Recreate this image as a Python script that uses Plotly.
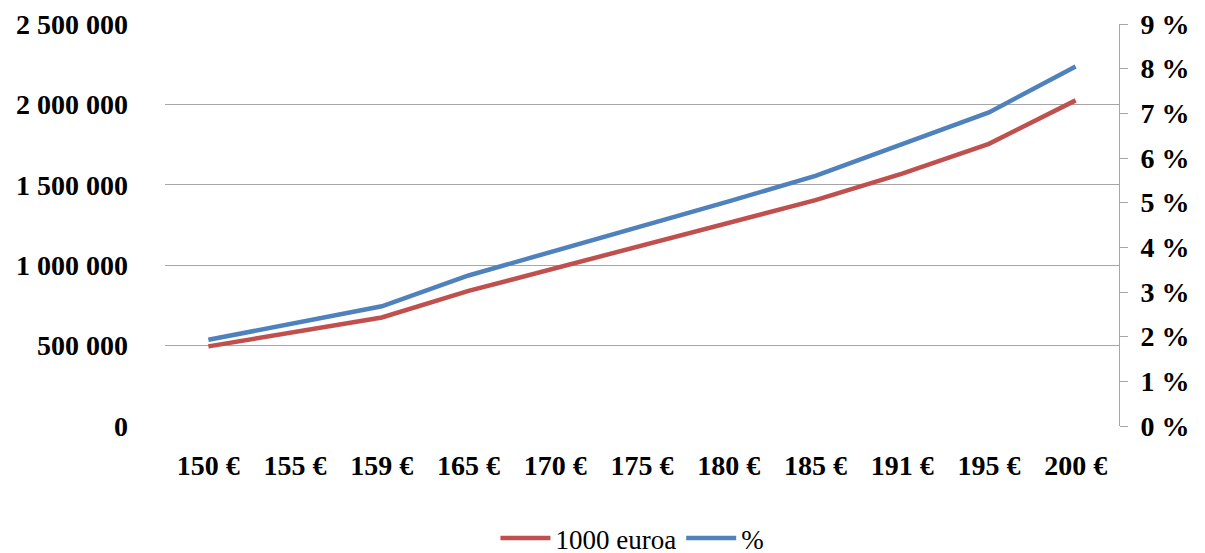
import plotly.graph_objects as go

categories = ["150 €", "155 €", "159 €", "165 €", "170 €", "175 €", "180 €", "185 €", "191 €", "195 €", "200 €"]
euros_1000 = [495000, 585000, 675000, 840000, 980000, 1125000, 1265000, 1405000, 1570000, 1755000, 2025000]
percent = [1.93, 2.3, 2.68, 3.37, 3.92, 4.47, 5.03, 5.6, 6.3, 7.02, 8.05]
left_ticks = [0, 500000, 1000000, 1500000, 2000000, 2500000]
left_labels = ["0", "500 000", "1 000 000", "1 500 000", "2 000 000", "2 500 000"]
right_ticks = list(range(0, 10))
right_labels = [f"{v} %" for v in right_ticks]

RED = "#C0504D"
BLUE = "#4F81BD"
GRID = "#A6A6A6"
FONT = "Liberation Serif, Times New Roman, serif"

fig = go.Figure()
fig.add_trace(go.Scatter(x=categories, y=euros_1000, name="1000 euroa", mode="lines",
                         line=dict(color=RED, width=4.5), yaxis="y"))
fig.add_trace(go.Scatter(x=categories, y=percent, name="%", mode="lines",
                         line=dict(color=BLUE, width=4.5), yaxis="y2"))

fig.update_layout(
    width=1205, height=553,
    margin=dict(l=157, r=94, t=16, b=135, autoexpand=False),
    paper_bgcolor="white", plot_bgcolor="white",
    font=dict(family=FONT, color="black"),
    showlegend=True,
    legend=dict(orientation="h", x=0.49, xanchor="center", y=-0.28, yanchor="middle",
                font=dict(family=FONT, size=27, color="black"), itemwidth=50),
    xaxis=dict(type="category", showgrid=False, showline=False, ticks="",
               automargin=False, ticklabeloverflow="allow",
               tickfont=dict(family=FONT, size=28, color="black", weight="bold"),
               ticklabelstandoff=20, range=[-0.5, 10.5]),
    yaxis=dict(range=[0, 2500000], tickvals=left_ticks, ticktext=left_labels,
               showgrid=True, gridcolor=GRID, gridwidth=1, showline=False, ticks="",
               zeroline=False, automargin=False, ticklabeloverflow="allow",
               tickfont=dict(family=FONT, size=28, color="black", weight="bold"),
               ticklabelstandoff=36),
    yaxis2=dict(range=[0, 9], tickvals=right_ticks, ticktext=right_labels,
                overlaying="y", side="right", showgrid=False, showline=True,
                linecolor=GRID, linewidth=1, ticks="outside", ticklen=8, tickcolor=GRID,
                zeroline=False, automargin=False, ticklabeloverflow="allow",
                tickfont=dict(family=FONT, size=28, color="black", weight="bold"),
                ticklabelstandoff=7),
)

fig.write_html("out.html")
